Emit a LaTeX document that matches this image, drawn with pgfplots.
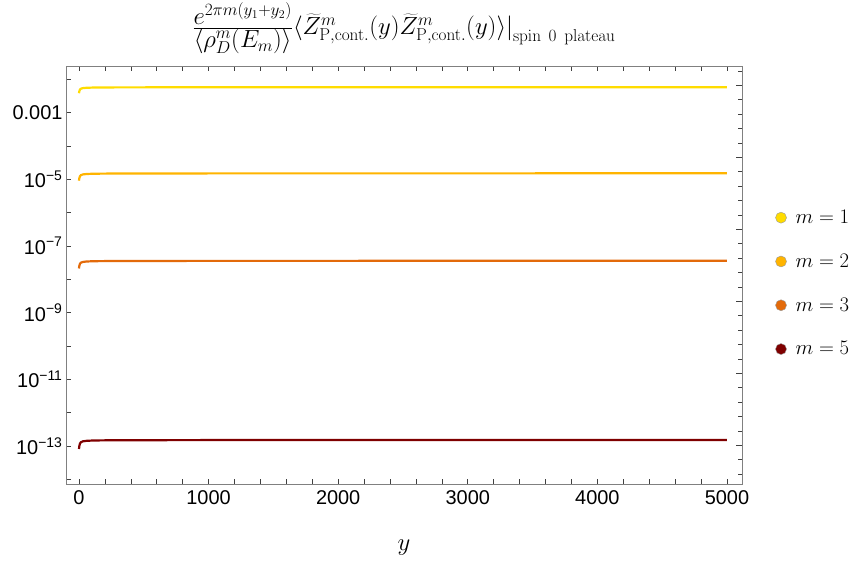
\documentclass[border=0pt]{standalone}
\usepackage[no-math]{fontspec}
\newfontfamily\arial{Liberation Sans}
\usepackage{pgfplots}
\pgfplotsset{compat=1.18}
\definecolor{c1}{HTML}{FFDC00}
\definecolor{c2}{HTML}{FFB400}
\definecolor{c3}{HTML}{E36A0A}
\definecolor{c5}{HTML}{7F0000}
\begin{document}
\begin{tikzpicture}
\path[use as bounding box] (0,0) rectangle (859bp,567bp);
\begin{axis}[
  at={(66bp,83bp)}, anchor=south west,
  scale only axis, width=676bp, height=418bp,
  ymode=log, xmin=-100, xmax=5116, ymin=7.24e-15, ymax=2.51e-2,
  axis line style={draw=black!50, line width=0.8pt},
  tick style={black!75, line width=0.6pt},
  major tick length=5bp, minor tick length=5bp,
  xtick={0,1000,2000,3000,4000,5000},
  xticklabels={0,1000,2000,3000,4000,5000},
  minor x tick num=4,
  ytick={1e-14,1e-13,1e-12,1e-11,1e-10,1e-9,1e-8,1e-7,1e-6,1e-5,1e-4,1e-3,1e-2},
  yticklabels={{},{10\textsuperscript{−13}},{},{10\textsuperscript{−11}},{},{10\textsuperscript{−9}},{},{10\textsuperscript{−7}},{},{10\textsuperscript{−5}},{},{0.001},{}},
  yminorticks=false,
  ytick pos=left,
  tick label style={font=\arial\fontsize{20}{24}\selectfont, black},
  xticklabel style={yshift=-3bp},
  title={$\frac{\textstyle e^{2\pi m(y_1+y_2)}}{\textstyle\langle\rho_D^m(E_m)\rangle}\big\langle \widetilde{Z}^m_{\mathrm{P,cont.}}(y)\widetilde{Z}^m_{\mathrm{P,cont.}}(y)\big\rangle\big|_{\mathrm{spin\ 0\ plateau}}$},
  title style={at={(0.5,1)}, anchor=south, yshift=6bp, inner sep=0pt, font=\fontsize{25.5}{30}\selectfont},
  xlabel={$y$},
  xlabel style={at={(0.5,0)}, anchor=center, yshift=-64bp, font=\fontsize{24}{28}\selectfont},
  legend style={at={(1.049,0.48)}, anchor=west, draw=none, fill=none,
    font=\fontsize{19.5}{23}\selectfont, row sep=25bp, column sep=7bp, inner xsep=0pt},
  legend cell align=left,
  legend image code/.code={\draw[draw=black!40, line width=0.4pt, fill] (0bp,0bp) circle (5.5bp);},
  every axis plot/.append style={line width=2.2bp},
]
\addplot[c1] coordinates {(0,3.828e-3) (3,4.426e-3) (8,4.955e-3) (15,5.224e-3) (30,5.445e-3) (60,5.585e-3) (120,5.675e-3) (300,5.734e-3) (1000,5.768e-3) (5000,5.794e-3)};
\addlegendentry{$m=1$}
\addplot[c2] coordinates {(0,9.12e-6) (3,1.089e-5) (8,1.2486e-5) (15,1.334e-5) (30,1.403e-5) (60,1.446e-5) (120,1.476e-5) (300,1.494e-5) (1000,1.506e-5) (5000,1.514e-5)};
\addlegendentry{$m=2$}
\addplot[c3] coordinates {(0,2.118e-8) (3,2.551e-8) (8,2.942e-8) (15,3.151e-8) (30,3.322e-8) (60,3.430e-8) (120,3.503e-8) (300,3.550e-8) (1000,3.578e-8) (5000,3.597e-8)};
\addlegendentry{$m=3$}
\addplot[c5] coordinates {(0,8.128e-14) (3,1.0104e-13) (8,1.195e-13) (15,1.296e-13) (30,1.379e-13) (60,1.431e-13) (120,1.467e-13) (300,1.490e-13) (1000,1.504e-13) (5000,1.514e-13)};
\addlegendentry{$m=5$}
\end{axis}
\begin{axis}[
  at={(66bp,83bp)}, anchor=south west,
  scale only axis, width=676bp, height=418bp,
  xmin=0, xmax=1, ymin=0, ymax=418,
  axis line style={draw=none},
  xtick=\empty,
  ytick={38.7,110.7,182.7,254.7,326.7,398.7},
  minor ytick={9.9,24.3,53.1,67.5,81.9,96.3,125.1,139.5,153.9,168.3,197.1,211.5,225.9,240.3,269.1,283.5,297.9,312.3,341.1,355.5,369.9,384.3,413.1},
  yticklabels={},
  ytick pos=right,
  tick style={black!75, line width=0.6pt},
  major tick length=6bp, minor tick length=4bp,
]
\end{axis}
\end{tikzpicture}
\end{document}
